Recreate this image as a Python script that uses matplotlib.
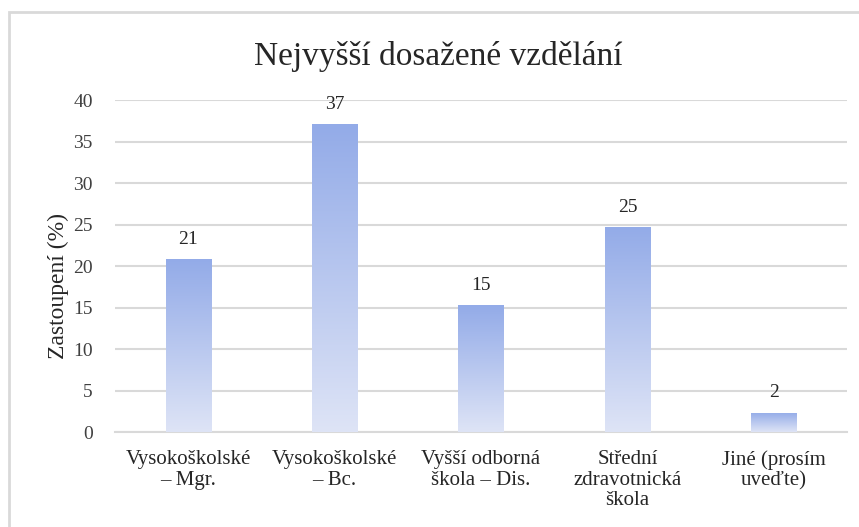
import numpy as np
import matplotlib.pyplot as plt
from matplotlib.colors import LinearSegmentedColormap
from matplotlib.patches import Rectangle

categories = ["Vysokoškolské\n– Mgr.", "Vysokoškolské\n– Bc.", "Vyšší odborná\nškola – Dis.",
              "Střední\nzdravotnická\nškola", "Jiné (prosím\nuveďte)"]
values = [20.8, 37.1, 15.3, 24.7, 2.3]
labels = ["21", "37", "15", "25", "2"]

plt.rcParams['font.family'] = ['Liberation Serif', 'DejaVu Serif']

fig = plt.figure(figsize=(8.59, 5.27), dpi=100)
ax = fig.add_axes([0.134, 0.180, 0.852, 0.630])

x = np.arange(len(categories))
bars = ax.bar(x, values, width=0.31, color='none', edgecolor='none', zorder=3)

# gradient fill: strong blue at the top, pale at the base
cmap = LinearSegmentedColormap.from_list('grad', ['#dee4f6', '#93abe8'])
grad = np.linspace(0, 1, 256).reshape(-1, 1)
for b, lab in zip(bars, labels):
    x0, w, h = b.get_x(), b.get_width(), b.get_height()
    im = ax.imshow(grad, cmap=cmap, origin='lower', aspect='auto',
                   extent=[x0, x0 + w, 0, h], zorder=3)
    im.set_clip_path(b)
    ax.text(x0 + w / 2, h + 1.4, lab, ha='center', va='bottom', fontsize=14, color='#262626')

ax.set_xlim(-0.5, len(categories) - 0.5)
ax.set_ylim(0, 40)
ax.set_yticks(range(0, 41, 5))
ax.set_xticks(x)
ax.set_xticklabels(categories, fontsize=15, color='#262626', linespacing=1.1)
ax.tick_params(axis='y', labelsize=14, colors='#404040', length=0, pad=16)
ax.tick_params(axis='x', length=0, pad=13)
ax.grid(axis='y', color='#d9d9d9', linewidth=1.5, zorder=0)
ax.set_axisbelow(True)
for s in ['top', 'right', 'left']:
    ax.spines[s].set_visible(False)
ax.spines['bottom'].set_color('#d9d9d9')
ax.spines['bottom'].set_linewidth(1.5)

ax.set_ylabel("Zastoupení (%)", fontsize=17, color='#262626')
ax.yaxis.set_label_coords(-0.063, 0.44)
fig.text(0.51, 0.893, "Nejvyšší dosažené vzdělání", ha='center', va='center',
         fontsize=24, color='#262626')

fig.patches.append(Rectangle((9 / 859, -0.1), 1.1, 1 - 12 / 527 + 0.1,
                             transform=fig.transFigure, fill=False,
                             edgecolor='#d9d9d9', linewidth=2))

fig.savefig('out.png', dpi=100)
